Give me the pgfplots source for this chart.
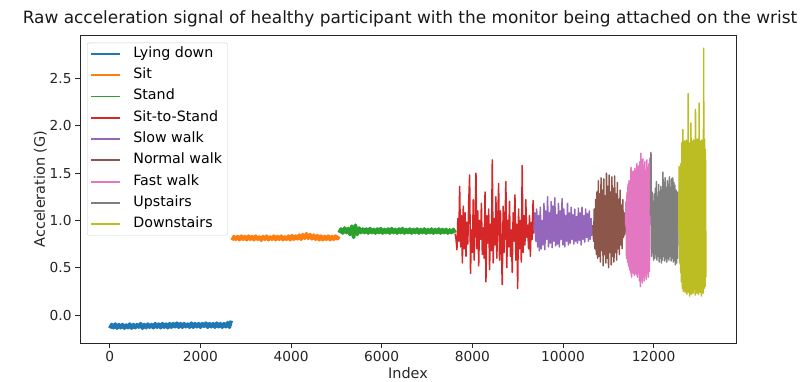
\documentclass[border=0pt]{standalone}
\usepackage{fontspec}
\setmainfont{DejaVu Sans}
\usepackage{pgfplots}
\usepackage{pgfplotstable}
\pgfplotsset{compat=1.18}
\definecolor{c0}{HTML}{1F77B4}
\definecolor{c1}{HTML}{FF7F0E}
\definecolor{c2}{HTML}{2CA02C}
\definecolor{c3}{HTML}{D62728}
\definecolor{c4}{HTML}{9467BD}
\definecolor{c5}{HTML}{8C564B}
\definecolor{c6}{HTML}{E377C2}
\definecolor{c7}{HTML}{7F7F7F}
\definecolor{c8}{HTML}{BCBD22}
\pgfplotstableread[header=false,row sep=\\]{
-0.14\\-0.10\\-0.135\\-0.095\\-0.14\\-0.10\\-0.135\\-0.10\\-0.14\\-0.105\\
-0.135\\-0.095\\-0.14\\-0.10\\-0.135\\-0.10\\-0.13\\-0.09\\-0.14\\-0.10\\
-0.135\\-0.095\\-0.13\\-0.10\\-0.135\\-0.09\\-0.13\\-0.095\\-0.135\\-0.09\\
-0.13\\-0.095\\-0.135\\-0.09\\-0.13\\-0.09\\-0.125\\-0.085\\-0.13\\-0.09\\
-0.13\\-0.09\\-0.125\\-0.095\\-0.13\\-0.085\\-0.13\\-0.09\\-0.125\\-0.09\\
-0.13\\-0.09\\-0.12\\-0.085\\-0.13\\-0.09\\-0.125\\-0.09\\-0.13\\-0.085\\
-0.125\\-0.09\\-0.13\\-0.09\\-0.125\\-0.08\\-0.13\\-0.06\\
}\lying
\pgfplotstableread[header=false,row sep=\\]{
0.79\\0.83\\0.80\\0.83\\0.795\\0.835\\0.80\\0.83\\0.795\\0.835\\
0.80\\0.83\\0.795\\0.835\\0.80\\0.825\\0.79\\0.83\\0.80\\0.835\\
0.795\\0.825\\0.80\\0.835\\0.795\\0.83\\0.80\\0.835\\0.795\\0.825\\
0.80\\0.835\\0.795\\0.84\\0.80\\0.835\\0.805\\0.845\\0.80\\0.85\\
0.81\\0.86\\0.81\\0.85\\0.805\\0.845\\0.80\\0.84\\0.795\\0.835\\
0.795\\0.83\\0.80\\0.835\\0.795\\0.83\\0.80\\0.835\\0.805\\0.83\\
}\sit
\pgfplotstableread[header=false,row sep=\\]{
0.87\\0.91\\0.865\\0.92\\0.87\\0.915\\0.85\\0.94\\0.82\\0.95\\
0.85\\0.92\\0.87\\0.91\\0.87\\0.91\\0.865\\0.915\\0.87\\0.905\\
0.865\\0.91\\0.87\\0.915\\0.865\\0.905\\0.87\\0.91\\0.865\\0.915\\
0.87\\0.905\\0.865\\0.91\\0.87\\0.915\\0.865\\0.905\\0.87\\0.91\\
0.865\\0.905\\0.87\\0.91\\0.865\\0.905\\0.87\\0.91\\0.865\\0.905\\
0.87\\0.91\\0.865\\0.905\\0.87\\0.91\\0.865\\0.905\\0.87\\0.905\\
0.865\\0.90\\0.87\\0.905\\0.87\\
}\stand
\pgfplotstableread[header=false,row sep=\\]{
0.86\\0.80\\0.69\\1.02\\0.78\\1.36\\0.72\\1.05\\0.55\\1.15\\
0.70\\1.08\\0.62\\0.98\\0.75\\1.20\\1.48\\0.44\\0.90\\0.66\\
1.22\\0.58\\0.95\\1.50\\0.70\\1.10\\0.52\\1.00\\0.80\\1.18\\
0.64\\0.92\\0.60\\1.30\\0.35\\1.05\\0.76\\1.12\\0.48\\0.96\\
0.68\\1.64\\0.55\\1.02\\0.74\\1.25\\0.60\\0.98\\1.39\\0.58\\
1.10\\0.70\\0.32\\1.15\\0.66\\0.95\\1.41\\0.50\\1.00\\0.72\\
1.20\\0.62\\0.90\\0.45\\1.08\\0.78\\1.27\\0.58\\0.96\\0.28\\
1.12\\0.70\\1.00\\0.56\\1.58\\0.66\\1.05\\0.74\\1.22\\0.82\\
0.95\\0.70\\1.05\\0.62\\0.98\\0.80\\1.21\\0.86\\
}\sitstand
\pgfplotstableread[header=false,row sep=\\]{
0.90\\1.08\\0.78\\1.12\\0.72\\1.05\\0.68\\1.14\\0.70\\1.00\\
0.74\\1.18\\0.69\\1.10\\0.80\\1.25\\0.72\\1.08\\0.76\\1.20\\
0.71\\1.15\\0.78\\1.24\\0.73\\1.06\\0.75\\1.18\\0.72\\1.10\\
0.80\\1.23\\0.74\\1.12\\0.72\\1.05\\0.78\\1.18\\0.74\\1.08\\
0.76\\1.14\\0.80\\1.06\\0.75\\1.12\\0.78\\1.04\\0.76\\1.13\\
0.79\\1.08\\0.74\\1.14\\0.80\\1.05\\0.77\\1.12\\0.82\\1.07\\
0.78\\1.10\\0.80\\1.02\\0.84\\0.95\\
}\slow
\pgfplotstableread[header=false,row sep=\\]{
0.95\\0.78\\1.12\\0.70\\1.22\\0.64\\1.30\\0.60\\1.42\\0.62\\
1.28\\0.56\\1.45\\0.68\\1.32\\0.52\\1.44\\0.64\\1.26\\0.55\\
1.50\\0.60\\1.36\\0.50\\1.48\\0.66\\1.30\\0.53\\1.46\\0.62\\
1.34\\0.56\\1.47\\0.66\\1.28\\0.58\\1.40\\0.70\\1.22\\0.64\\
1.32\\0.74\\1.16\\0.70\\1.22\\0.82\\1.08\\0.85\\0.95\\
}\normal
\pgfplotstableread[header=false,row sep=\\]{
0.95\\1.20\\0.60\\1.30\\0.56\\1.38\\0.52\\1.42\\0.48\\1.35\\
0.45\\1.56\\0.40\\1.48\\0.50\\1.52\\0.44\\1.45\\0.42\\1.55\\
0.48\\1.50\\0.43\\1.60\\0.40\\1.52\\0.46\\1.58\\0.36\\1.62\\
0.30\\1.71\\0.38\\1.55\\0.34\\1.65\\0.40\\1.58\\0.36\\1.62\\
0.42\\1.50\\0.38\\1.64\\0.44\\1.56\\0.40\\1.60\\0.46\\1.66\\
0.95\\
}\fast
\pgfplotstableread[header=false,row sep=\\]{
1.05\\1.72\\0.62\\1.30\\0.66\\1.20\\0.58\\1.28\\0.60\\1.34\\
0.64\\1.41\\0.58\\1.25\\0.62\\1.38\\0.56\\1.30\\0.60\\1.36\\
0.55\\1.32\\0.58\\1.51\\0.62\\1.40\\0.57\\1.45\\0.60\\1.35\\
0.56\\1.42\\0.60\\1.38\\0.58\\1.46\\0.62\\1.35\\0.57\\1.44\\
0.60\\1.45\\0.56\\1.40\\0.58\\1.37\\0.53\\1.32\\0.55\\1.30\\
0.60\\1.25\\0.90\\
}\upst
\pgfplotstableread[header=false,row sep=\\]{
0.90\\1.57\\0.55\\1.40\\0.45\\1.60\\0.35\\1.82\\0.28\\1.96\\
0.25\\1.80\\0.30\\1.84\\0.24\\1.78\\0.27\\1.85\\0.22\\1.80\\
0.26\\2.34\\0.24\\1.82\\0.20\\1.80\\0.28\\2.03\\0.22\\1.84\\
0.26\\1.78\\0.23\\1.85\\0.27\\1.80\\0.21\\2.17\\0.25\\1.82\\
0.23\\1.86\\0.28\\1.80\\0.22\\2.24\\0.26\\1.84\\0.24\\1.82\\
0.20\\1.85\\0.27\\1.80\\0.23\\2.82\\0.28\\1.86\\0.30\\1.75\\
0.40\\
}\downst
\begin{document}
\begin{tikzpicture}
\useasboundingbox (-80bp,-39bp) rectangle (726bp,343bp);
\begin{axis}[
  scale only axis, width=656bp, height=308bp,
  at={(0,0)}, anchor=south west,
  xmin=-658, xmax=13818, ymin=-0.296, ymax=2.96,
  xtick={0,2000,4000,6000,8000,10000,12000},
  ytick={0,0.5,1,1.5,2,2.5},
  scaled x ticks=false, scaled y ticks=false,
  tick align=outside, tick pos=left, major tick length=4.9bp,
  /pgf/number format/assume math mode=true,
  xticklabel style={/pgf/number format/1000 sep={}},
  yticklabel style={/pgf/number format/.cd, fixed, fixed zerofill, precision=1},
  tick label style={font=\fontsize{13.8}{16}\selectfont, text=black!85},
  label style={font=\fontsize{14.5}{17}\selectfont, text=black!85},
  xlabel={Index}, ylabel={Acceleration (G)},
  ylabel shift=-4bp, xlabel shift=-1bp,
  title={Raw acceleration signal of healthy participant with the monitor being attached on the wrist},
  title style={font=\fontsize{17}{20}\selectfont, text=black!90, yshift=-2bp, xshift=2bp},
  axis line style={black!85, line width=0.8bp},
  tick style={black!85, line width=0.8bp},
  every axis plot/.append style={line width=1.5bp, line join=round},
  legend cell align=left,
  legend image code/.code={\draw[#1, line width=1.8bp] (0bp,0bp) -- (29bp,0bp); \path (38bp,0bp);},
  legend style={at={(axis description cs:0.0107,0.975)}, anchor=north west,
    font=\fontsize{14.3}{16}\selectfont, draw=black!20, rounded corners=2bp,
    fill=white, fill opacity=0.8, text opacity=1, row sep=3.3bp,
    nodes={inner sep=2.5bp, text height=10bp, text depth=3bp}},
]
\addplot[c0, line width=3.5bp] table[x expr={\coordindex*40}, y index=0] {\lying};
\addlegendentry{Lying down}
\addplot[c1, line width=3.5bp] table[x expr={2700+\coordindex*40}, y index=0] {\sit};
\addlegendentry{Sit}
\addplot[c2, line width=3.5bp] table[x expr={5060+\coordindex*40}, y index=0] {\stand};
\addlegendentry{Stand}
\addplot[c3] table[x expr={7620+\coordindex*20}, y index=0] {\sitstand};
\addlegendentry{Sit-to-Stand}
\addplot[c4] table[x expr={9360+\coordindex*20}, y index=0] {\slow};
\addlegendentry{Slow walk}
\addplot[c5] table[x expr={10660+\coordindex*15}, y index=0] {\normal};
\addlegendentry{Normal walk}
\addplot[c6] table[x expr={11380+\coordindex*11}, y index=0] {\fast};
\addlegendentry{Fast walk}
\addplot[c7] table[x expr={11930+\coordindex*12}, y index=0] {\upst};
\addlegendentry{Upstairs}
\addplot[c8] table[x expr={12554+\coordindex*10}, y index=0] {\downst};
\addlegendentry{Downstairs}
\end{axis}
\end{tikzpicture}
\end{document}
